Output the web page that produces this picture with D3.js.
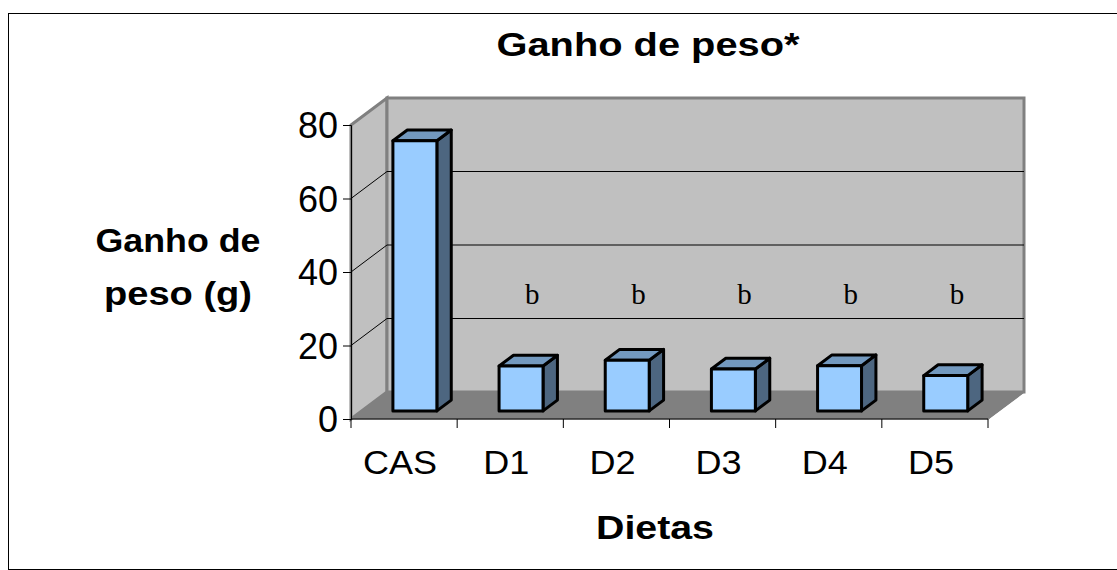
<!DOCTYPE html>
<html>
<head>
<meta charset="utf-8">
<script src="https://cdn.jsdelivr.net/npm/d3@7"></script>
<style>
  body { margin: 0; background: #fff; }
  svg { display: block; font-family: "Liberation Sans", Arial, sans-serif; }
</style>
</head>
<body>
<div id="chart"></div>
<script>
const categories = ['CAS', 'D1', 'D2', 'D3', 'D4', 'D5']
const values = [73.5, 12.2, 13.8, 11.4, 12.3, 9.6]
const barLabels = ['', 'b', 'b', 'b', 'b', 'b']
const yTicks = [0, 20, 40, 60, 80]

const chartWidth = 1117
const chartHeight = 570

// front plane of the 3d plot and the depth offset to the back wall
const plot = ({ left: 351, right: 988, top: 125, bottom: 419 })
const depth = ({ dx: 36, dy: -27 })
const barFront = 0.3
const barBack = 0.7
const barWidthRatio = 0.414

let xScale = d3.scaleBand()
    .domain(categories)
    .range([plot.left, plot.right])

let yScale = d3.scaleLinear()
    .domain([0, 80])
    .range([plot.bottom, plot.top])

const svg = d3.select('#chart').append('svg')
    .attr('width', chartWidth)
    .attr('height', chartHeight)

// outer frame
svg.append('rect')
    .attr('x', 8.5).attr('y', 13.5)
    .attr('width', 1120).attr('height', 556)
    .attr('fill', '#fff')
    .attr('stroke', '#000')
    .attr('stroke-width', 1)

const pt = (x, y, f) => [x + depth.dx * f, y + depth.dy * f]
const poly = pts => 'M' + pts.map(p => p.join(',')).join('L') + 'Z'

const y0 = yScale(0), yTop = yScale(80)

// floor
svg.append('path')
    .attr('d', poly([[plot.left, y0], [plot.right, y0], pt(plot.right, y0, 1), pt(plot.left, y0, 1)]))
    .attr('fill', '#808080')
    .attr('stroke', '#808080')
    .attr('stroke-width', 1)

// side wall
svg.append('path')
    .attr('d', poly([[plot.left, yTop], pt(plot.left, yTop, 1), pt(plot.left, y0, 1), [plot.left, y0]]))
    .attr('fill', '#c0c0c0')
    .attr('stroke', '#808080')
    .attr('stroke-width', 3)

// back wall
const bl = pt(plot.left, yTop, 1), br = pt(plot.right, y0, 1)
svg.append('rect')
    .attr('x', bl[0]).attr('y', bl[1])
    .attr('width', br[0] - bl[0]).attr('height', br[1] - bl[1])
    .attr('fill', '#c0c0c0')
    .attr('stroke', '#808080')
    .attr('stroke-width', 3)

// gridlines on the side and back walls
const grid = svg.append('g')
    .attr('stroke', '#000')
    .attr('stroke-width', 1)
    .attr('fill', 'none')

grid.selectAll('path')
    .data(yTicks.filter(t => t > 0 && t < 80))
    .enter().append('path')
    .attr('d', d => {
      const a = [plot.left, yScale(d)], b = pt(plot.left, yScale(d), 1), c = pt(plot.right, yScale(d), 1)
      return 'M' + a + 'L' + b + 'L' + c
    })

// floor right edge
svg.append('path')
    .attr('d', 'M' + [plot.right, y0] + 'L' + pt(plot.right, y0, 1))
    .attr('stroke', '#808080')
    .attr('stroke-width', 1.5)

// 3d bars
const bw = xScale.bandwidth() * barWidthRatio
const bars = svg.append('g')
    .attr('stroke', '#000')
    .attr('stroke-width', 3)
    .attr('stroke-linejoin', 'round')
    .selectAll('g')
    .data(categories.map((c, i) => ({ cat: c, value: values[i] })))
    .enter().append('g')

const barGeom = d => {
  const x1 = xScale(d.cat) + (xScale.bandwidth() - bw) / 2
  const x2 = x1 + bw
  const yb = yScale(0), yt = yScale(d.value)
  return {
    front: [pt(x1, yt, barFront), pt(x2, yt, barFront), pt(x2, yb, barFront), pt(x1, yb, barFront)],
    side: [pt(x2, yt, barFront), pt(x2, yt, barBack), pt(x2, yb, barBack), pt(x2, yb, barFront)],
    top: [pt(x1, yt, barFront), pt(x1, yt, barBack), pt(x2, yt, barBack), pt(x2, yt, barFront)]
  }
}

bars.append('path').attr('d', d => poly(barGeom(d).side)).attr('fill', '#4d6680')
bars.append('path').attr('d', d => poly(barGeom(d).top)).attr('fill', '#7399bf')
bars.append('path').attr('d', d => poly(barGeom(d).front)).attr('fill', '#99ccff')

// significance letters
svg.append('g')
    .selectAll('text')
    .data(categories.map((c, i) => ({ cat: c, label: barLabels[i] })))
    .enter().append('text')
    .attr('x', d => pt(xScale(d.cat) + xScale.bandwidth() / 2, 0, 0.5)[0] + 4)
    .attr('y', 304)
    .attr('text-anchor', 'middle')
    .style('font-family', '"Liberation Serif", "Times New Roman", serif')
    .style('font-size', '29px')
    .text(d => d.label)

// y axis
let yAxis = d3.axisLeft(yScale).tickValues(yTicks).tickSize(8).tickPadding(5)
svg.append('g')
    .attr('transform', 'translate(' + plot.left + ',0)')
    .call(yAxis)
    .call(g => g.selectAll('text').style('font-size', '36px').attr('fill', '#000').attr('dy', '0.36em'))
    .call(g => g.selectAll('line, path').attr('stroke', '#000'))

// x axis line with ticks between categories
const edges = categories.map(c => xScale(c)).concat([plot.right])
svg.append('path')
    .attr('d', 'M' + plot.left + ',' + y0 + 'H' + plot.right)
    .attr('stroke', '#000')
svg.append('g')
    .selectAll('line')
    .data(edges)
    .enter().append('line')
    .attr('x1', d => d).attr('x2', d => d)
    .attr('y1', y0).attr('y2', y0 + 9)
    .attr('stroke', '#000')

let xAxis = d3.axisBottom(xScale).tickSize(0).tickPadding(0)
svg.append('g')
    .attr('transform', 'translate(-4,' + (y0 + 31) + ')')
    .call(xAxis)
    .call(g => g.select('.domain').remove())
    .call(g => g.selectAll('text').style('font-size', '34px').attr('fill', '#000'))
    .call(g => g.selectAll('text').attr('transform', 'scale(1.06,1)'))

// titles, stretched a little wider than the plain font as in the source
const boldText = (x, y, size, width, label) => svg.append('text')
    .attr('x', x - width / 2).attr('y', y)
    .attr('textLength', width)
    .attr('lengthAdjust', 'spacingAndGlyphs')
    .style('font-size', size + 'px').style('font-weight', 700)
    .text(label)

boldText(648, 56, 33, 303, 'Ganho de peso*')
boldText(178, 252, 33, 165, 'Ganho de')
boldText(178, 305, 33, 148, 'peso (g)')
boldText(655, 539, 34, 118, 'Dietas')
</script>
</body>
</html>
